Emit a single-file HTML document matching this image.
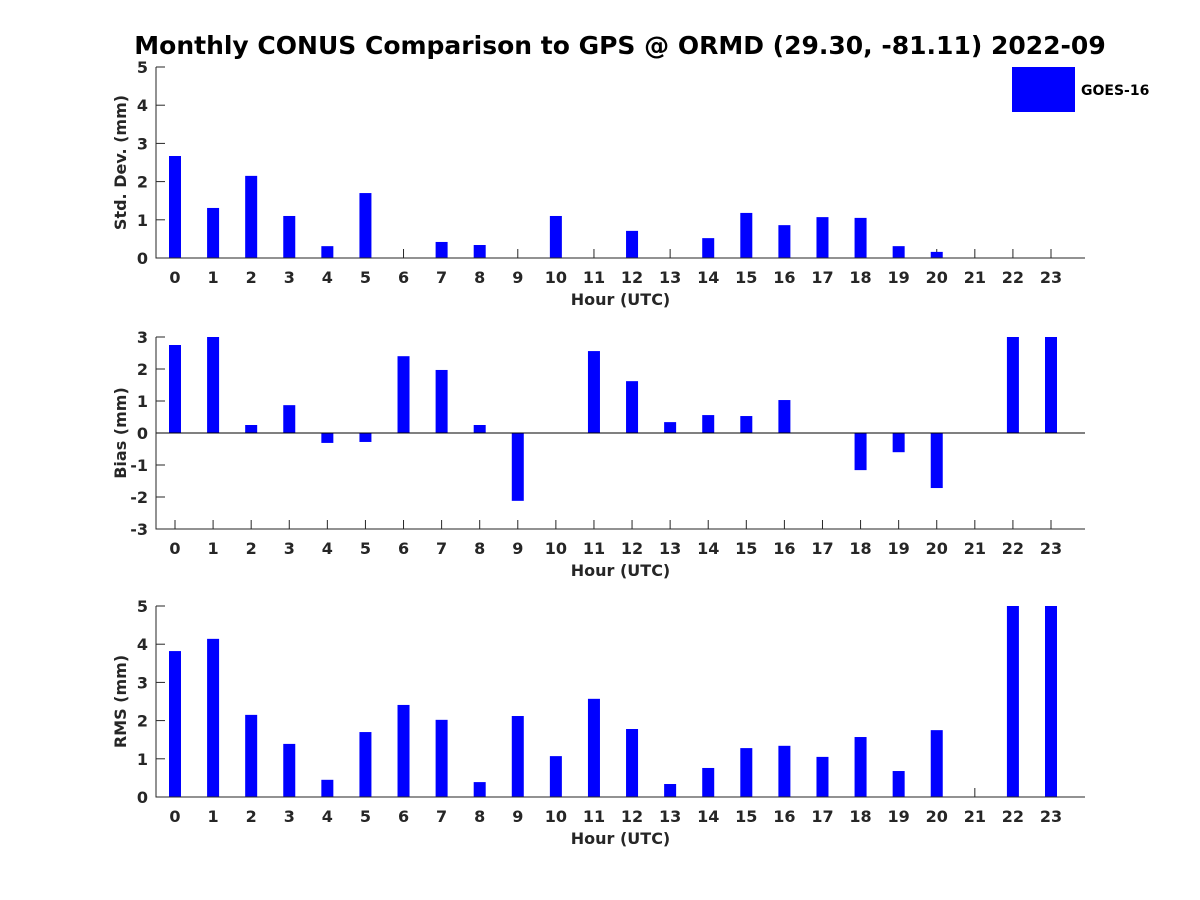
<!DOCTYPE html>
<html><head><meta charset="utf-8"><style>
html,body{margin:0;padding:0;background:#fff;}
svg{display:block;font-family:"DejaVu Sans","Liberation Sans",sans-serif;font-weight:bold;}
</style></head><body>
<svg id="chart" width="1200" height="900">
<text x="620" y="54" text-anchor="middle" font-size="25" fill="#000">Monthly CONUS Comparison to GPS @ ORMD (29.30, -81.11) 2022-09</text>
<g>
<rect x="1012" y="67" width="63" height="45" fill="#0000ff"/>
<text x="1081" y="95" font-size="14" fill="#000">GOES-16</text>
</g>
</svg>
<script>
const hours = [0,1,2,3,4,5,6,7,8,9,10,11,12,13,14,15,16,17,18,19,20,21,22,23];
const stdValues = [2.67,1.31,2.15,1.1,0.31,1.7,0,0.42,0.34,0,1.1,0,0.71,0,0.52,1.18,0.86,1.07,1.05,0.31,0.16,0,0,0];
const biasValues = [2.75,3.2,0.25,0.87,-0.31,-0.28,2.4,1.97,0.25,-2.12,0,2.56,1.62,0.34,0.56,0.53,1.03,0,-1.16,-0.6,-1.72,0,3.5,3.5];
const rmsValues = [3.82,4.14,2.15,1.39,0.45,1.7,2.41,2.02,0.39,2.12,1.07,2.57,1.78,0.34,0.76,1.28,1.34,1.05,1.57,0.68,1.75,0,5.5,5.5];
const stdTicks = [0,1,2,3,4,5];
const biasTicks = [-3,-2,-1,0,1,2,3];
const rmsTicks = [0,1,2,3,4,5];

const NS = "http://www.w3.org/2000/svg";
const svg = document.getElementById('chart');
function mk(tag, attrs, parent){const e=document.createElementNS(NS,tag);for(const k in attrs)e.setAttribute(k,attrs[k]);parent.appendChild(e);return e;}

const X0=156, X1=1085;
function xScale(h){return 175 + h*38.087;}

function panel(name, top, bottom, ymin, ymax, values, ticks, ylabel){
  const g = mk('g',{},svg);
  
  
  const y = v => bottom - (v - ymin)/(ymax - ymin)*(bottom - top);
  hours.forEach(h=>{
    mk('line',{x1:xScale(h),x2:xScale(h),y1:bottom,y2:bottom-9,stroke:'#262626'},g);
  });
  ticks.forEach(t=>{
    mk('line',{x1:X0,x2:X0+9,y1:y(t),y2:y(t),stroke:'#262626'},g);
  });
  const clipId = 'clip-'+name;
  const cp = mk('clipPath',{id:clipId},g);
  mk('rect',{x:X0,y:top,width:X1-X0,height:bottom-top},cp);
  const bars = mk('g',{'clip-path':'url(#'+clipId+')'},g);
  
  
  values.forEach((v,i)=>{
    const y0=y(0), y1=y(v);
    const r = mk('rect',{x:xScale(hours[i])-6,y:Math.min(y0,y1),width:12,height:Math.abs(y1-y0),fill:'#0000ff'},bars);
    
    
  });
  if(ymin<0){
    const zl = mk('line',{x1:X0,x2:X1,y1:y(0),y2:y(0),stroke:'#000','stroke-width':1},g);
    
    
  }
  const ax = mk('path',{d:`M${X0} ${top}V${bottom}H${X1}`,stroke:'#262626',fill:'none','stroke-width':1},g);
  
  
  ticks.forEach(t=>{
    const tl = mk('text',{x:X0-8,y:y(t)+6,'text-anchor':'end','font-size':16,fill:'#262626'},g);
    tl.textContent=t;
    
    
  });
  hours.forEach(h=>{
    const tl = mk('text',{x:xScale(h),y:bottom+25,'text-anchor':'middle','font-size':16,fill:'#262626'},g);
    tl.textContent=h;
    
    
  });
  const xt = mk('text',{x:(X0+X1)/2,y:bottom+47,'text-anchor':'middle','font-size':16,fill:'#262626'},g);
  xt.textContent='Hour (UTC)';
  
  
  const cy=(top+bottom)/2;
  const yt = mk('text',{x:126,y:cy,'text-anchor':'middle','font-size':16,fill:'#262626',transform:`rotate(-90 126 ${cy})`},g);
  yt.textContent=ylabel;
  
  
}
panel('std',67,258,0,5,stdValues,stdTicks,'Std. Dev. (mm)');
panel('bias',337,529,-3,3,biasValues,biasTicks,'Bias (mm)');
panel('rms',606,797,0,5,rmsValues,rmsTicks,'RMS (mm)');
</script>
</body></html>
